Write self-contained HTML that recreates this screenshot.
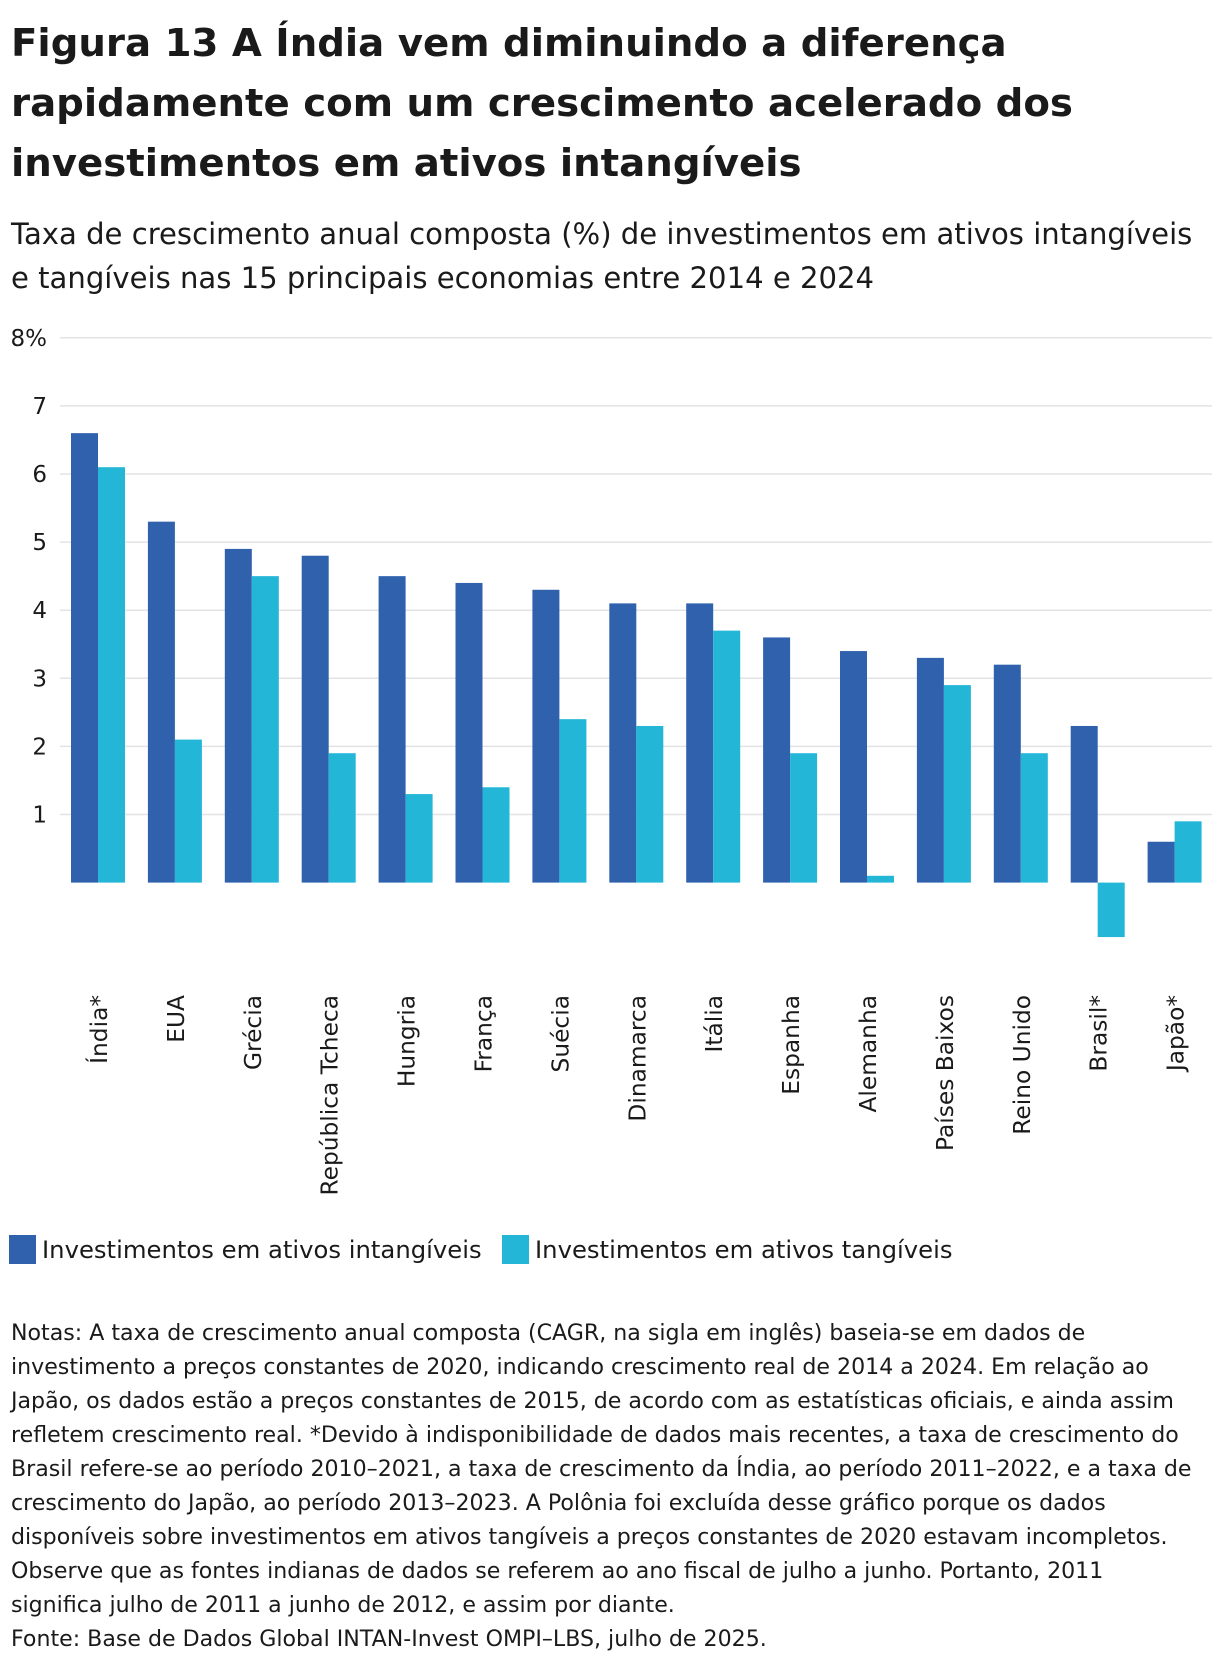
<!DOCTYPE html>
<html><head><meta charset="utf-8"><style>
body{margin:0;background:#fff;width:1220px;height:1666px;overflow:hidden;font-family:"DejaVu Sans",sans-serif;color:#1a1a1a}
.t{position:absolute;left:11px;top:14px;font-size:38.7px;font-weight:bold;line-height:60px;white-space:nowrap}
.s{position:absolute;left:11px;top:212px;font-size:29.1px;line-height:44px;white-space:nowrap}
.n{position:absolute;left:11px;top:1316px;font-size:22.1px;line-height:34px;white-space:nowrap}
</style></head><body>
<div class="t">Figura 13 A Índia vem diminuindo a diferença<br>rapidamente com um crescimento acelerado dos<br>investimentos em ativos intangíveis</div>
<div class="s">Taxa de crescimento anual composta (%) de investimentos em ativos intangíveis<br>e tangíveis nas 15 principais economias entre 2014 e 2024</div>
<svg id="chart" style="position:absolute;left:0;top:0" width="1220" height="1300" font-family="DejaVu Sans, sans-serif"></svg>
<div class="n">Notas: A taxa de crescimento anual composta (CAGR, na sigla em inglês) baseia-se em dados de<br>investimento a preços constantes de 2020, indicando crescimento real de 2014 a 2024. Em relação ao<br>Japão, os dados estão a preços constantes de 2015, de acordo com as estatísticas oficiais, e ainda assim<br>refletem crescimento real. *Devido à indisponibilidade de dados mais recentes, a taxa de crescimento do<br>Brasil refere-se ao período 2010–2021, a taxa de crescimento da Índia, ao período 2011–2022, e a taxa de<br>crescimento do Japão, ao período 2013–2023. A Polônia foi excluída desse gráfico porque os dados<br>disponíveis sobre investimentos em ativos tangíveis a preços constantes de 2020 estavam incompletos.<br>Observe que as fontes indianas de dados se referem ao ano fiscal de julho a junho. Portanto, 2011<br>significa julho de 2011 a junho de 2012, e assim por diante.<br>Fonte: Base de Dados Global INTAN-Invest OMPI–LBS, julho de 2025.</div>
<script>
const categories=["Índia*","EUA","Grécia","República Tcheca","Hungria","França","Suécia","Dinamarca","Itália","Espanha","Alemanha","Países Baixos","Reino Unido","Brasil*","Japão*"];
const intangible=[6.6,5.3,4.9,4.8,4.5,4.4,4.3,4.1,4.1,3.6,3.4,3.3,3.2,2.3,0.6];
const tangible=[6.1,2.1,4.5,1.9,1.3,1.4,2.4,2.3,3.7,1.9,0.1,2.9,1.9,-0.8,0.9];
const ticks=[1,2,3,4,5,6,7,8];
const tickLabels=["1","2","3","4","5","6","7","8%"];
const NS="http://www.w3.org/2000/svg",svg=document.getElementById('chart');
const y=v=>882.6-v*68.1, gx=i=>71+i*76.9, BW=27;
function mk(t,a){const e=document.createElementNS(NS,t);for(const k in a)e.setAttribute(k,a[k]);svg.appendChild(e);return e;}
ticks.forEach((t,i)=>{
 const g=mk('line',{x1:60,x2:1212,y1:y(t),y2:y(t),stroke:'#e3e3e3','stroke-width':1.5});
 
 
 const l=mk('text',{x:47,y:y(t)+8,'text-anchor':'end','font-size':23,fill:'#1a1a1a'});l.textContent=tickLabels[i];
 
 
});
categories.forEach((c,i)=>{
 const v1=intangible[i],v2=tangible[i];
 const b1=mk('rect',{x:gx(i),y:Math.min(y(v1),y(0)),width:BW,height:Math.abs(y(v1)-y(0)),fill:'#3061ad'});
 
 
 const b2=mk('rect',{x:gx(i)+BW,y:Math.min(y(v2),y(0)),width:BW,height:Math.abs(y(v2)-y(0)),fill:'#24b6d7'});
 
 
 const cx=gx(i)+BW+9;
 const t=mk('text',{x:cx,y:995,transform:`rotate(-90 ${cx} 995)`,'text-anchor':'end','font-size':23.3,fill:'#1a1a1a'});t.textContent=c;
 
 
});
const leg=[["Investimentos em ativos intangíveis",'#3061ad',9],["Investimentos em ativos tangíveis",'#24b6d7',502]];
leg.forEach(([txt,col,x])=>{
 const r=mk('rect',{x:x,y:1235,width:27,height:29,fill:col});
 
 
 const t=mk('text',{x:x+33,y:1258,'font-size':24.3,fill:'#1a1a1a'});t.textContent=txt;
 
 
});
</script>
</body></html>
